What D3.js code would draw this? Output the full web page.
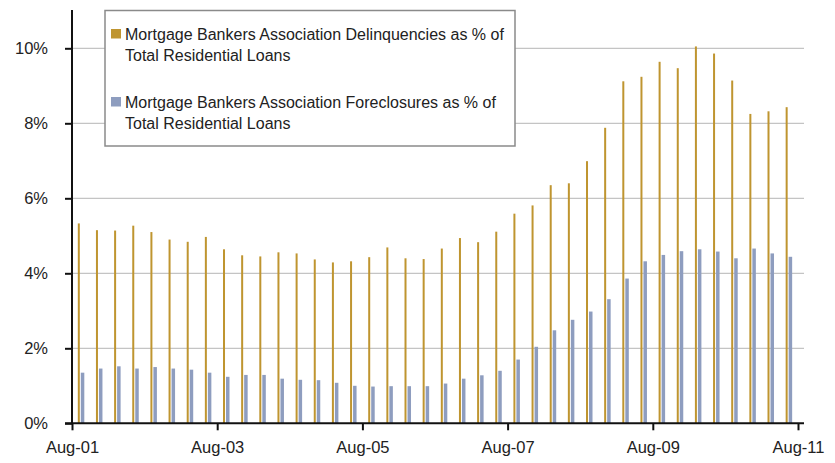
<!DOCTYPE html>
<html>
<head>
<meta charset="utf-8">
<script src="https://cdn.jsdelivr.net/npm/d3@7"></script>
<style>
  body { margin: 0; background: #fff; }
  text { font-family: "Liberation Sans", Arial, sans-serif; fill: #222; }
</style>
</head>
<body>
<div id="chart"></div>
<script>
// quarterly data, Q3 2001 .. Q2 2011
const quarters = [
  "2001Q3", "2001Q4", "2002Q1", "2002Q2", "2002Q3", "2002Q4", "2003Q1", "2003Q2",
  "2003Q3", "2003Q4", "2004Q1", "2004Q2", "2004Q3", "2004Q4", "2005Q1", "2005Q2",
  "2005Q3", "2005Q4", "2006Q1", "2006Q2", "2006Q3", "2006Q4", "2007Q1", "2007Q2",
  "2007Q3", "2007Q4", "2008Q1", "2008Q2", "2008Q3", "2008Q4", "2009Q1", "2009Q2",
  "2009Q3", "2009Q4", "2010Q1", "2010Q2", "2010Q3", "2010Q4", "2011Q1", "2011Q2"
];

const delinquencies = [
  5.33, 5.15, 5.14, 5.27, 5.10, 4.90, 4.84, 4.97, 4.64, 4.48,
  4.45, 4.56, 4.53, 4.37, 4.29, 4.32, 4.43, 4.69, 4.40, 4.38,
  4.66, 4.94, 4.83, 5.11, 5.59, 5.81, 6.35, 6.40, 6.99, 7.88,
  9.12, 9.24, 9.64, 9.47, 10.05, 9.86, 9.14, 8.25, 8.32, 8.43
];

const foreclosures = [
  1.35, 1.46, 1.52, 1.46, 1.50, 1.46, 1.43, 1.35, 1.24, 1.29,
  1.29, 1.19, 1.16, 1.15, 1.08, 1.00, 0.98, 0.99, 0.99, 0.99,
  1.06, 1.19, 1.28, 1.40, 1.70, 2.04, 2.48, 2.76, 2.98, 3.31,
  3.86, 4.32, 4.49, 4.59, 4.64, 4.58, 4.40, 4.66, 4.53, 4.44
];

const xTickLabels = ["Aug-01", "Aug-03", "Aug-05", "Aug-07", "Aug-09", "Aug-11"];
const yTicks = [0, 2, 4, 6, 8, 10];

const legendLabels = [
  ["Mortgage Bankers Association Delinquencies as % of", "Total Residential Loans"],
  ["Mortgage Bankers Association Foreclosures as % of", "Total Residential Loans"]
];

const colors = ["#bf9530", "#8e9dbf"];

const width = 835, height = 463;
const plotLeft = 72, plotRight = 798, plotTop = 10, plotBottom = 423.3;

const svg = d3.select("#chart").append("svg")
    .attr("width", width)
    .attr("height", height);

const y = d3.scaleLinear().domain([0, 11]).range([plotBottom, plotBottom - 11 * 37.5]);

const x = d3.scaleBand()
    .domain(quarters)
    .range([plotLeft, plotRight])
    .paddingInner(0.64)
    .paddingOuter(0.32);

// position of the x ticks, one every 8 quarters
const xt = d3.scaleLinear().domain([0, xTickLabels.length - 1]).range([plotLeft, plotRight]);

// gridlines
svg.append("g")
  .selectAll("line")
  .data(yTicks.filter(d => d > 0))
  .enter().append("line")
    .attr("x1", plotLeft)
    .attr("x2", 804)
    .attr("y1", d => y(d))
    .attr("y2", d => y(d))
    .attr("stroke", "#c4c4c4")
    .attr("stroke-width", 1.3);

// delinquency bars
svg.append("g")
  .selectAll("rect")
  .data(delinquencies)
  .enter().append("rect")
    .attr("x", (d, i) => x(quarters[i]))
    .attr("width", 2)
    .attr("y", d => y(d))
    .attr("height", d => y(0) - y(d))
    .attr("fill", colors[0]);

// foreclosure bars
svg.append("g")
  .selectAll("rect")
  .data(foreclosures)
  .enter().append("rect")
    .attr("x", (d, i) => x(quarters[i]) + 3)
    .attr("width", 3.5)
    .attr("y", d => y(d))
    .attr("height", d => y(0) - y(d))
    .attr("fill", colors[1]);

// y axis
const yAxis = d3.axisLeft(y)
    .tickValues(yTicks)
    .tickFormat(d => d + "%")
    .tickSize(7)
    .tickPadding(17);

svg.append("g")
    .attr("transform", `translate(${plotLeft},0)`)
    .call(yAxis)
    .call(g => g.select(".domain").attr("d", `M0,${plotTop}V${plotBottom}`).attr("stroke", "#111").attr("stroke-width", 2))
    .call(g => g.selectAll(".tick line").attr("stroke", "#111").attr("stroke-width", 2))
    .call(g => g.selectAll(".tick text")
        .style("font-family", "Liberation Sans, Arial, sans-serif")
        .style("font-size", "16.5px")
        .attr("fill", "#222"));

// x axis
const xAxis = d3.axisBottom(xt)
    .tickValues(d3.range(xTickLabels.length))
    .tickFormat(i => xTickLabels[i])
    .tickSize(7)
    .tickPadding(11);

svg.append("g")
    .attr("transform", `translate(0,${plotBottom})`)
    .call(xAxis)
    .call(g => g.select(".domain").attr("d", `M${plotLeft - 7},0H804`).attr("stroke", "#111").attr("stroke-width", 2))
    .call(g => g.selectAll(".tick line").attr("stroke", "#111").attr("stroke-width", 2))
    .call(g => g.selectAll(".tick text")
        .style("font-family", "Liberation Sans, Arial, sans-serif")
        .style("font-size", "16.5px")
        .attr("fill", "#222"));

// legend
const legend = svg.append("g");

legend.append("rect")
    .attr("x", 105)
    .attr("y", 10.5)
    .attr("width", 410)
    .attr("height", 135.5)
    .attr("fill", "#fff")
    .attr("stroke", "#8a8a8a")
    .attr("stroke-width", 1.5);

legendLabels.forEach((lines, k) => {
  const gy = 29 + k * 68;
  legend.append("rect")
      .attr("x", 111)
      .attr("y", gy)
      .attr("width", 10)
      .attr("height", 9.5)
      .attr("fill", colors[k]);
  const t = legend.append("text")
      .attr("x", 125)
      .attr("y", gy + 10.5)
      .style("font-size", "16px");
  lines.forEach((line, j) => {
    t.append("tspan")
        .attr("x", 125)
        .attr("dy", j === 0 ? 0 : 21)
        .text(line);
  });
});
</script>
</body>
</html>
